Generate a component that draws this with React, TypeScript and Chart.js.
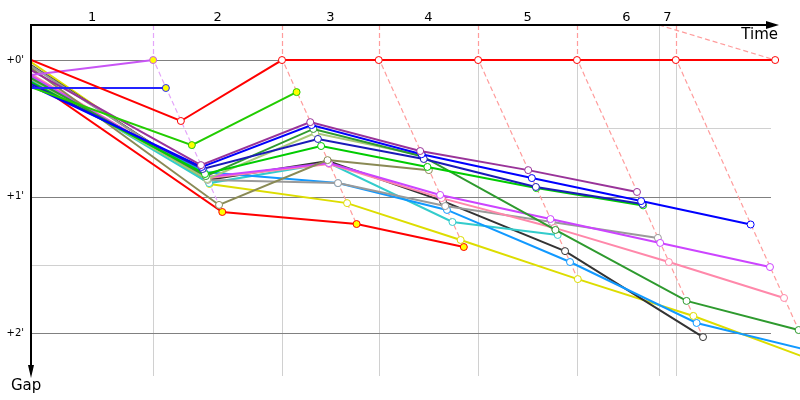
import React, { useEffect, useRef } from 'react';
import { Chart, registerables } from 'chart.js';

Chart.register(...registerables);

// Leader's lap-crossing times (seconds of race time); index 0 = start
const LEADER_TIMES = [0, 118, 242.5, 336, 432, 527.5, 623, 719];
const TIME_LIMIT = 606.8;
const LAP_LABELS = ['1', '2', '3', '4', '5', '6', '7'];
const LAP_LABEL_TIMES = [59, 180.3, 289.3, 384, 479.8, 575.3, 614.9];
const GAP_MAJOR = [0, 60, 120];
const GAP_MAJOR_LABELS = ["+0'", "+1'", "+2'"];
const GAP_MINOR = [30, 90];

// Gap to leader (seconds) at start (index 0) and at each lap
const RED_A = [0, 26.8, 0, 0, 0, 0, 0, 0];
const VIOLET_A = [6.6, 0];
const BLUE_A = [12.3, 12.3];
const GREEN_A = [11.9, 37.4, 14.1];
const PURPLE = [4.4, 46.2, 27.3, 40.0, 48.4, 58.0];
const BLUE_B = [11.4, 47.0, 28.6, 41.4, 51.9, 62.0, 72.3];
const NAVY = [10.5, 47.9, 34.7, 43.5, 55.8, 63.3];
const GREEN_B = [9.7, 50.1, 37.8, 47.0, 56.3, 63.9];
const DARK_GREEN = [7.9, 51.0, 30.3, 42.4, 74.7, 105.9, 118.7];
const LIGHT_OLIVE = [8.4, 52.3, 32.1, 42.0];
const KHAKI = [3.5, 63.7, 44.0, 48.4];
const MAGENTA = [7.0, 51.4, 45.3, 59.3, 69.9, 80.4, 91.0];
const PINK = [6.2, 51.9, 45.7, 60.7, 73.8, 88.8, 104.6];
const GRAY = [2.6, 52.7, 54.1, 64.2, 71.2, 78.2];
const DODGER = [9.3, 49.2, 54.1, 65.9, 88.8, 115.6, 127.5];
const TEAL = [7.5, 54.1, 45.3, 71.2, 76.9];
const BLACK = [2.2, 52.7, 44.4, 62.0, 84.0, 121.8];
const YELLOW = [0.9, 54.5, 62.9, 79.1, 96.3, 112.5, 131.9];
const RED_B = [8.8, 66.8, 72.1, 82.2];

// laps where the marker is filled yellow
const RED_A_PITS: number[] = [];
const VIOLET_A_PITS = [1];
const BLUE_A_PITS = [1];
const GREEN_A_PITS = [1, 2];
const RED_B_PITS = [1, 2, 3];

const SERIES = [
  { gaps: RED_A, color: '#ff0000', pits: RED_A_PITS },
  { gaps: VIOLET_A, color: '#c855f5', pits: VIOLET_A_PITS },
  { gaps: BLUE_A, color: '#2424ff', pits: BLUE_A_PITS },
  { gaps: GREEN_A, color: '#22cc00', pits: GREEN_A_PITS },
  { gaps: PURPLE, color: '#993399', pits: [] },
  { gaps: BLUE_B, color: '#0000ff', pits: [] },
  { gaps: NAVY, color: '#1a1ab8', pits: [] },
  { gaps: GREEN_B, color: '#00cc00', pits: [] },
  { gaps: DARK_GREEN, color: '#2e9a2e', pits: [] },
  { gaps: LIGHT_OLIVE, color: '#a8c878', pits: [] },
  { gaps: KHAKI, color: '#8a8a55', pits: [] },
  { gaps: MAGENTA, color: '#cc44ff', pits: [] },
  { gaps: PINK, color: '#ff88aa', pits: [] },
  { gaps: GRAY, color: '#9a9a9a', pits: [] },
  { gaps: DODGER, color: '#1199ff', pits: [] },
  { gaps: TEAL, color: '#33cccc', pits: [] },
  { gaps: BLACK, color: '#333333', pits: [] },
  { gaps: YELLOW, color: '#dddd00', pits: [] },
  { gaps: RED_B, color: '#ff0000', pits: RED_B_PITS },
];

const LAP_LINE_COLORS = ['', '#e4a6fa', '#ff9c9c', '#ff9c9c', '#ff9c9c', '#ff9c9c', '#ff9c9c'];

const FONT = '"DejaVu Sans", Tahoma, Verdana, sans-serif';

const decorPlugin = {
  id: 'decor',
  beforeDatasetsDraw(chart: any) {
    const { ctx, chartArea, scales } = chart;
    const xs = scales.x;
    const ys = scales.y;
    const top = chartArea.top;
    const bottom = chartArea.bottom;
    const left = chartArea.left;
    const gridRight = 771;
    ctx.save();
    ctx.lineWidth = 1;
    ctx.strokeStyle = '#d0d0d0';
    GAP_MINOR.forEach((g) => {
      const y = Math.round(ys.getPixelForValue(g)) + 0.5;
      ctx.beginPath();
      ctx.moveTo(left, y);
      ctx.lineTo(gridRight, y);
      ctx.stroke();
    });
    const vlines = [...LEADER_TIMES.slice(1, 7), TIME_LIMIT];
    vlines.forEach((t) => {
      const x = Math.round(xs.getPixelForValue(t)) + 0.5;
      ctx.beginPath();
      ctx.moveTo(x, top);
      ctx.lineTo(x, bottom);
      ctx.stroke();
    });
    ctx.strokeStyle = '#808080';
    GAP_MAJOR.forEach((g) => {
      const y = Math.round(ys.getPixelForValue(g)) + 0.5;
      ctx.beginPath();
      ctx.moveTo(left, y);
      ctx.lineTo(gridRight, y);
      ctx.stroke();
    });
    ctx.setLineDash([5, 3]);
    ctx.lineWidth = 1.2;
    for (let k = 1; k <= 6; k++) {
      let gmax = 0;
      SERIES.forEach((s) => {
        if (s.gaps.length > k && s.gaps[k] > gmax) gmax = s.gaps[k];
      });
      const t0 = LEADER_TIMES[k];
      ctx.strokeStyle = LAP_LINE_COLORS[k];
      ctx.fillStyle = '#ffffff';
      const x0 = Math.round(xs.getPixelForValue(t0)) + 0.5;
      ctx.fillRect(x0 - 1, top, 2, ys.getPixelForValue(0) - top);
      ctx.beginPath();
      ctx.moveTo(x0, top);
      ctx.lineTo(x0, ys.getPixelForValue(0));
      ctx.lineTo(xs.getPixelForValue(t0 + gmax), ys.getPixelForValue(gmax));
      ctx.stroke();
    }
    ctx.strokeStyle = '#ff9c9c';
    ctx.beginPath();
    ctx.moveTo(xs.getPixelForValue(TIME_LIMIT), top);
    ctx.lineTo(xs.getPixelForValue(LEADER_TIMES[7]), ys.getPixelForValue(0));
    ctx.stroke();
    ctx.restore();
  },
  afterDraw(chart: any) {
    const { ctx, chartArea, scales } = chart;
    const xs = scales.x;
    const ys = scales.y;
    const top = chartArea.top;
    const left = chartArea.left;
    ctx.save();
    ctx.strokeStyle = '#000000';
    ctx.fillStyle = '#000000';
    ctx.lineWidth = 2;
    ctx.beginPath();
    ctx.moveTo(left - 1, top);
    ctx.lineTo(768, top);
    ctx.stroke();
    ctx.beginPath();
    ctx.moveTo(779, top);
    ctx.lineTo(766, top - 4);
    ctx.lineTo(766, top + 4);
    ctx.closePath();
    ctx.fill();
    ctx.beginPath();
    ctx.moveTo(left, top);
    ctx.lineTo(left, 367);
    ctx.stroke();
    ctx.beginPath();
    ctx.moveTo(left, 378);
    ctx.lineTo(left - 3, 365);
    ctx.lineTo(left + 3, 365);
    ctx.closePath();
    ctx.fill();
    ctx.font = '13px ' + FONT;
    ctx.textAlign = 'center';
    ctx.textBaseline = 'middle';
    LAP_LABELS.forEach((l, i) => {
      ctx.fillText(l, xs.getPixelForValue(LAP_LABEL_TIMES[i]), 18);
    });
    ctx.font = '10px ' + FONT;
    ctx.textAlign = 'right';
    GAP_MAJOR.forEach((g, i) => {
      ctx.fillText(GAP_MAJOR_LABELS[i], 24, ys.getPixelForValue(g));
    });
    ctx.font = '15px ' + FONT;
    ctx.textAlign = 'right';
    ctx.fillText('Time', 778, 35);
    ctx.textAlign = 'left';
    ctx.fillText('Gap', 11, 386);
    ctx.restore();
  },
};

export default function App() {
  const ref = useRef<HTMLCanvasElement | null>(null);
  useEffect(() => {
    document.body.style.margin = '0';
    const canvas = ref.current;
    if (!canvas) return;
    const datasets = SERIES.map((s) => ({
      data: s.gaps.map((g, i) => ({ x: i === 0 ? 0 : LEADER_TIMES[i] + g, y: g })),
      borderColor: s.color,
      borderWidth: 2,
      tension: 0,
      fill: false,
      pointRadius: s.gaps.map((_, i) => (i === 0 ? 0 : 3.5)),
      pointHoverRadius: 3.5,
      pointBorderWidth: 1,
      pointBorderColor: s.color,
      pointBackgroundColor: s.gaps.map((_, i) => (s.pits.includes(i) ? '#ffff00' : '#ffffff')),
    }));
    const chart = new Chart(canvas, {
      type: 'line',
      data: { datasets },
      options: {
        animation: false,
        responsive: false,
        maintainAspectRatio: false,
        layout: { autoPadding: false, padding: { left: 31, top: 25, right: 0, bottom: 24 } },
        plugins: { legend: { display: false }, tooltip: { enabled: false } },
        scales: {
          x: { type: 'linear', min: 0, max: 743, display: false },
          y: { type: 'linear', reverse: true, min: -15.4, max: 138.9, display: false },
        },
      },
      plugins: [decorPlugin],
    } as any);
    return () => chart.destroy();
  }, []);
  return (
    <div style={{ width: 800, height: 400 }}>
      <canvas ref={ref} width={800} height={400} style={{ display: 'block' }} />
    </div>
  );
}
